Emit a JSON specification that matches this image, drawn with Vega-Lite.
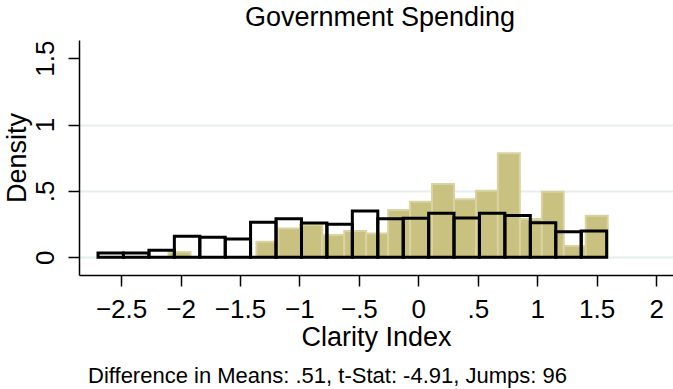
{
  "$schema": "https://vega.github.io/schema/vega-lite/v6.json",
  "width": 594,
  "height": 235,
  "autosize": {"type": "none"},
  "padding": {"left": 79, "top": 40, "right": 0, "bottom": 114},
  "background": "white",
  "config": {"view": {"stroke": null}, "font": "Liberation Sans"},
  "title": {"text": "Government Spending", "font": "Liberation Sans", "fontSize": 27, "fontWeight": "normal", "color": "black", "anchor": "middle", "offset": 8, "dx": 4},
  "datasets": {
    "tan": [
      {"x0": -2.101, "x1": -1.916, "d": 0.04},
      {"x0": -1.362, "x1": -1.177, "d": 0.118},
      {"x0": -1.177, "x1": -0.993, "d": 0.218},
      {"x0": -0.993, "x1": -0.808, "d": 0.243},
      {"x0": -0.808, "x1": -0.623, "d": 0.168},
      {"x0": -0.623, "x1": -0.439, "d": 0.198},
      {"x0": -0.439, "x1": -0.254, "d": 0.18},
      {"x0": -0.254, "x1": -0.069, "d": 0.356},
      {"x0": -0.069, "x1": 0.115, "d": 0.419},
      {"x0": 0.115, "x1": 0.300, "d": 0.552},
      {"x0": 0.300, "x1": 0.485, "d": 0.437},
      {"x0": 0.485, "x1": 0.669, "d": 0.502},
      {"x0": 0.669, "x1": 0.854, "d": 0.784},
      {"x0": 0.854, "x1": 1.039, "d": 0.289},
      {"x0": 1.039, "x1": 1.223, "d": 0.494},
      {"x0": 1.223, "x1": 1.408, "d": 0.085},
      {"x0": 1.408, "x1": 1.593, "d": 0.313}
    ],
    "hollow": [
      {"x0": -2.694, "x1": -2.480, "d": 0.032},
      {"x0": -2.480, "x1": -2.266, "d": 0.032},
      {"x0": -2.266, "x1": -2.052, "d": 0.053},
      {"x0": -2.052, "x1": -1.838, "d": 0.158},
      {"x0": -1.838, "x1": -1.624, "d": 0.151},
      {"x0": -1.624, "x1": -1.411, "d": 0.138},
      {"x0": -1.411, "x1": -1.197, "d": 0.264},
      {"x0": -1.197, "x1": -0.983, "d": 0.291},
      {"x0": -0.983, "x1": -0.769, "d": 0.258},
      {"x0": -0.769, "x1": -0.555, "d": 0.249},
      {"x0": -0.555, "x1": -0.341, "d": 0.349},
      {"x0": -0.341, "x1": -0.127, "d": 0.291},
      {"x0": -0.127, "x1": 0.087, "d": 0.294},
      {"x0": 0.087, "x1": 0.300, "d": 0.332},
      {"x0": 0.300, "x1": 0.514, "d": 0.296},
      {"x0": 0.514, "x1": 0.728, "d": 0.332},
      {"x0": 0.728, "x1": 0.942, "d": 0.316},
      {"x0": 0.942, "x1": 1.156, "d": 0.261},
      {"x0": 1.156, "x1": 1.370, "d": 0.193},
      {"x0": 1.370, "x1": 1.584, "d": 0.198}
    ]
  },
  "layer": [
    {
      "data": {"name": "tan"},
      "mark": {"type": "bar", "fill": "#c9c17f", "stroke": "#d9d3a2", "strokeWidth": 2},
      "encoding": {
        "x": {
          "field": "x0", "type": "quantitative",
          "scale": {"domain": [-2.854, 2.142], "nice": false, "zero": false},
          "axis": {
            "values": [-2.5, -2, -1.5, -1, -0.5, 0, 0.5, 1, 1.5, 2],
            "labelExpr": "replace(format(datum.value, '.1~f'), '0.', '.')",
            "title": "Clarity Index",
            "titleFont": "Liberation Sans", "titleFontSize": 27, "titleFontWeight": "normal", "titleColor": "black", "titlePadding": 2,
            "labelFont": "Liberation Sans", "labelFontSize": 26, "labelColor": "black", "labelPadding": 10,
            "labelFlush": false, "labelOverlap": false,
            "domainColor": "black", "domainWidth": 1.5,
            "tickColor": "black", "tickWidth": 1.5, "tickSize": 11,
            "grid": false
          }
        },
        "x2": {"field": "x1"},
        "y": {
          "field": "d", "type": "quantitative",
          "scale": {"domain": [-0.133, 1.637], "nice": false, "zero": false},
          "axis": {
            "values": [0, 0.5, 1, 1.5],
            "labelExpr": "replace(format(datum.value, '.1~f'), '0.', '.')",
            "title": "Density",
            "titleFont": "Liberation Sans", "titleFontSize": 27, "titleFontWeight": "normal", "titleColor": "black", "titlePadding": 1,
            "labelFont": "Liberation Sans", "labelFontSize": 26, "labelColor": "black",
            "labelAngle": 270, "labelAlign": "center", "labelBaseline": "alphabetic", "labelPadding": 15,
            "domainColor": "black", "domainWidth": 1.5,
            "tickColor": "black", "tickWidth": 1.5, "tickSize": 11,
            "grid": true,
            "gridColor": {"condition": {"test": "datum.value > 1.2", "value": "transparent"}, "value": "#e6eef0"},
            "gridWidth": 2
          }
        },
        "y2": {"datum": 0}
      }
    },
    {
      "data": {"name": "hollow"},
      "mark": {"type": "bar", "fill": "white", "fillOpacity": 0, "stroke": "black", "strokeWidth": 3},
      "encoding": {
        "x": {"field": "x0", "type": "quantitative"},
        "x2": {"field": "x1"},
        "y": {"field": "d", "type": "quantitative"},
        "y2": {"datum": 0}
      }
    },
    {
      "data": {"values": [{"note": "Difference in Means: .51, t-Stat: -4.91, Jumps: 96"}]},
      "mark": {"type": "text", "align": "left", "baseline": "alphabetic", "font": "Liberation Sans", "fontSize": 22, "color": "black"},
      "encoding": {
        "x": {"datum": -2.778, "type": "quantitative"},
        "y": {"datum": -0.95, "type": "quantitative"},
        "text": {"field": "note", "type": "nominal"}
      }
    }
  ]
}
